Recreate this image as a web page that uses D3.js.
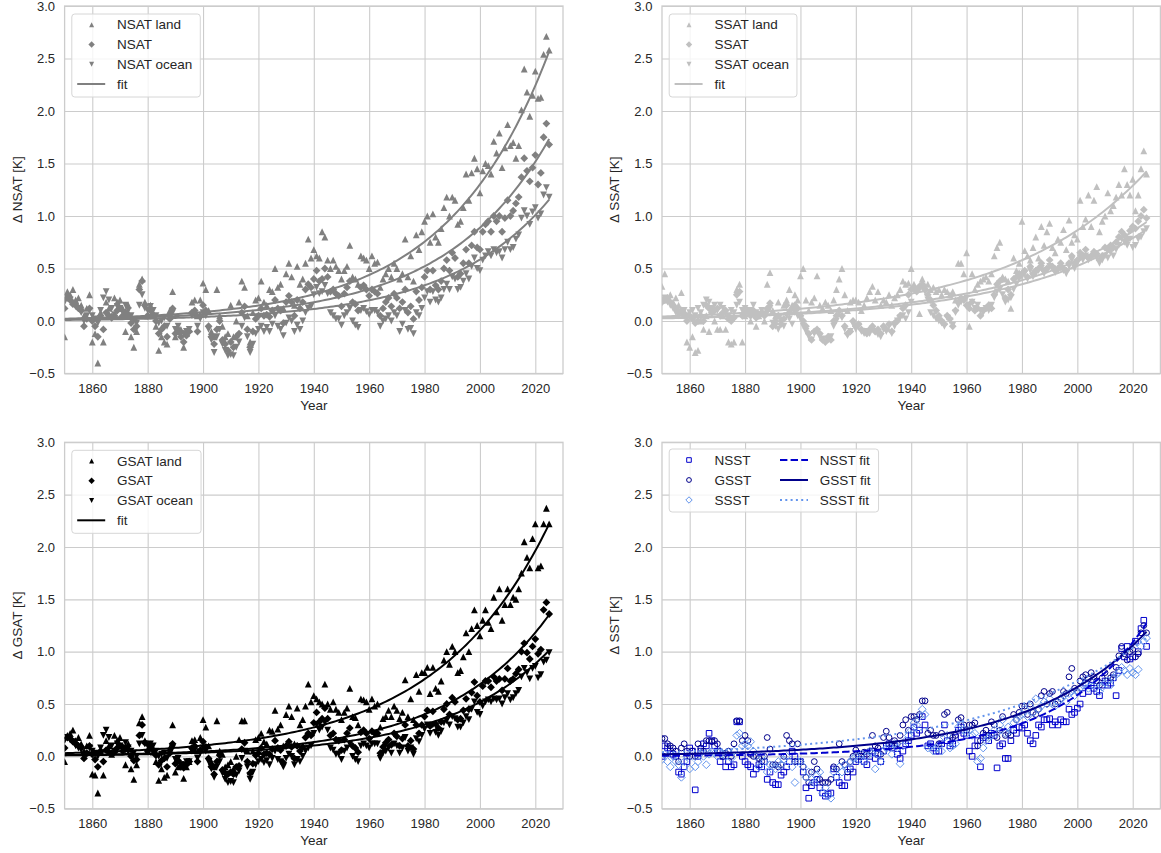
<!DOCTYPE html>
<html>
<head>
<meta charset="utf-8">
<script src="https://cdn.jsdelivr.net/npm/d3@7"></script>
<style>
  body { margin: 0; background: #fff; }
  svg { display: block; }
</style>
</head>
<body>
<svg id="chart" width="1161" height="853"></svg>
<script>
const FONT = "'Liberation Sans', Arial, sans-serif";

// one value per year, 1850-2025
const years = d3.range(1850, 2026);

// anomalies in hundredths of a kelvin
const nsatLand = [
  -15, 28, 25, 30, 20, 22, 15, 5, 12, 25, -20, -12, -40, 8, -20, 18, 12, 5, 22, 18,
  20, 12, -10, 15, -15, -25, -10, 35, 40, 18, 5, 15, 5, -5, -28, -15, -20, -22, 10, 28,
  -15, -10, -8, -25, -12, -8, 18, 20, 5, 20, 36, 30, 10, -10, -15, 30, 5, -5, -15, -12,
  15, -15, 0, 18, 38, 32, 5, -20, 8, 20, 22, 38, 18, 15, 30, 28, 50, 32, 35, 12,
  45, 55, 42, 15, 52, 35, 40, 55, 78, 60, 68, 62, 60, 85, 80, 58, 50, 58, 52, 48,
  40, 48, 52, 72, 42, 40, 35, 62, 60, 58, 50, 62, 55, 56, 32, 40, 45, 50, 42, 55,
  50, 40, 45, 78, 42, 62, 38, 82, 68, 85, 95, 100, 75, 102, 80, 75, 88, 108, 118, 100,
  118, 115, 92, 95, 108, 140, 115, 141, 155, 145, 122, 143, 150, 148, 140, 171, 160, 179, 146, 165,
  187, 167, 170, 155, 167, 201, 240, 218, 195, 215, 238, 212, 213, 254, 271, 258
];
const nsat = [
  12, 22, 20, 16, 15, 12, 10, -5, 2, 12, 0, -5, -15, 5, -8, 8, 5, 3, 5, 10,
  12, 5, 8, 6, -2, -8, -5, 30, 38, 15, 5, 10, 6, 0, -12, -8, -5, -15, 2, 12,
  -12, -8, -15, -20, -14, -10, 8, 10, -10, 5, 15, 10, -5, -15, -22, -8, 0, -18, -22, -28,
  -20, -25, -15, -12, 8, 14, -8, -25, -10, 2, 5, 12, 5, 6, 4, 10, 20, 12, 10, -2,
  18, 24, 18, 5, 20, 12, 18, 30, 35, 32, 40, 48, 38, 40, 50, 42, 28, 30, 26, 24,
  14, 26, 32, 38, 18, 16, 10, 32, 34, 30, 24, 30, 28, 26, 5, 12, 18, 22, 14, 26,
  22, 12, 18, 30, 8, 14, 2, 28, 20, 32, 42, 48, 30, 48, 34, 30, 38, 50, 58, 48,
  65, 60, 42, 45, 55, 68, 55, 72, 85, 70, 68, 85, 92, 95, 85, 100, 95, 100, 85, 98,
  115, 100, 105, 112, 118, 137, 155, 143, 133, 146, 158, 130, 141, 175, 188, 168
];
const nsatOcean = [
  18, 22, 20, 17, 14, 12, 8, 0, 5, 10, 5, 2, -2, 10, 22, 28, 20, 12, 6, 14,
  12, 8, 15, 10, 5, 0, -2, 15, 25, 12, 10, 14, 10, 5, -2, 0, 3, -5, 3, 8,
  -8, -5, -12, -12, -10, -8, 5, 5, -5, 2, 8, 5, -8, -18, -30, -15, -8, -22, -28, -33,
  -32, -33, -25, -20, -5, 3, -15, -30, -22, -12, -8, -5, -10, -6, -10, -3, 5, -5, -8, -14,
  -2, 3, 0, -10, -4, -8, 0, 8, 12, 14, 25, 32, 26, 28, 34, 26, 8, 5, 2, 2,
  -4, 5, 8, 12, 0, -4, -6, 10, 12, 9, 6, 10, 10, 8, -5, 0, 2, 5, 0, 8,
  5, -10, -3, 10, -8, -7, -12, 8, 5, 12, 22, 28, 18, 28, 20, 18, 22, 30, 35, 30,
  42, 40, 30, 32, 38, 45, 40, 52, 60, 50, 48, 58, 62, 66, 62, 68, 65, 66, 60, 68,
  75, 68, 70, 78, 82, 98, 105, 100, 92, 104, 108, 98, 102, 120, 127, 118
];

const ssatLand = [
  33, 45, 20, 25, 18, 22, 15, 27, 10, -20, -25, -15, -30, -28, 0, -8, 5, -10, 10, 0,
  -8, -8, 5, -8, -20, -22, -20, 30, 35, -20, 5, 10, 0, 8, -5, 5, 10, 0, 35, 46,
  10, 5, 18, 2, 15, 20, 30, 15, 25, 20, 43, 50, 20, 10, 18, 22, 43, 15, 12, 18,
  15, 10, 20, 30, 40, 50, 25, 10, 18, 20, 20, 18, 10, 15, 22, 28, 33, 20, 28, 15,
  20, 18, 25, 15, 22, 25, 30, 38, 35, 36, 50, 35, 30, 7, 40, 33, 35, 30, 32, 28,
  30, 25, 30, 28, 25, 28, 20, 55, 55, 45, 65, -5, 45, 30, 35, 38, 40, 42, 38, 45,
  62, 70, 75, 42, 40, 38, 12, 60, 48, 55, 95, 67, 62, 58, 70, 80, 60, 90, 72, 85,
  93, 70, 65, 78, 75, 87, 68, 96, 75, 82, 78, 115, 90, 97, 120, 90, 115, 128, 85, 95,
  100, 122, 105, 110, 118, 130, 120, 145, 130, 120, 135, 105, 120, 145, 162, 140
];
const ssat = [
  18, 20, 22, 18, 15, 12, 8, 10, 5, 0, 5, 2, -2, 0, 5, 0, 15, 12, 8, 10,
  12, 5, 8, 10, 2, 0, 3, 25, 28, 5, 8, 10, 5, 10, 3, 5, 8, 5, 12, 17,
  -5, 0, 5, -3, 2, 15, 8, 12, 15, 12, 5, 0, -5, -12, -18, -10, -8, -12, -18, -20,
  -15, -18, 0, 5, 10, 5, -5, -12, -10, 0, -5, -3, -8, -10, -12, -8, -5, -10, -8, -12,
  -5, -8, -3, -10, -2, 0, 5, 12, 15, 25, 30, 32, 28, 33, 35, 30, 25, 20, 15, 10,
  5, 0, -3, 5, 2, -5, 10, 18, 22, 20, 15, 12, 18, 10, 12, 5, 10, 12, 15, 12,
  25, 35, 38, 40, 22, 30, 25, 40, 42, 45, 45, 48, 42, 52, 45, 48, 50, 55, 48, 50,
  58, 52, 48, 50, 55, 50, 48, 55, 62, 55, 58, 65, 62, 68, 60, 62, 66, 64, 58, 62,
  70, 68, 72, 70, 75, 80, 85, 82, 78, 86, 90, 88, 95, 100, 106, 98
];
const ssatOcean = [
  20, 22, 18, 15, 12, 8, 5, 8, 10, 5, 8, 10, 5, 12, 8, 15, 20, 18, 12, 15,
  10, 15, 12, 8, 5, 10, 8, 15, 18, 10, 12, 8, 10, 15, 8, 5, 10, 6, 8, 12,
  -2, -5, -8, 0, -5, 5, 2, -3, 8, 5, 2, -5, -10, -15, -18, -12, -10, -15, -17, -20,
  -18, -15, -5, 0, 8, 3, -8, -14, -10, -3, -8, -5, -10, -12, -10, -12, -8, -10, -13, -15,
  -8, -10, -5, -12, -5, 0, 3, 5, 2, 8, 18, 30, 28, 30, 32, 28, 20, 8, 5, 2,
  0, -2, -5, 3, 0, -4, 8, 15, 18, 20, 22, 15, 18, 12, 15, 10, 8, 12, 10, 15,
  22, 28, 30, 25, 18, 20, 22, 30, 35, 40, 42, 45, 40, 48, 42, 45, 48, 50, 45, 48,
  52, 50, 46, 48, 50, 48, 45, 52, 58, 50, 55, 60, 58, 62, 58, 60, 62, 60, 55, 58,
  62, 60, 65, 62, 68, 72, 78, 75, 72, 78, 70, 72, 78, 80, 85, 88
];

const gsatLand = [
  -5, 20, 22, 25, 15, 18, 12, 5, 10, 20, -17, -18, -35, 5, -18, 15, 10, 2, 20, 15,
  18, 10, -8, 12, -12, -22, -8, 32, 38, 15, 5, 12, 4, -5, -23, -12, -20, -18, 8, 30,
  -15, -10, -8, -21, -10, -5, 15, 16, 5, 18, 35, 28, 10, -5, -10, 34, 5, 2, -10, -8,
  -5, -12, 0, 16, 34, 34, 5, -15, 5, 16, 18, 22, 14, 12, 25, 24, 44, 26, 30, 10,
  40, 48, 38, 12, 46, 30, 35, 48, 69, 52, 58, 55, 52, 50, 69, 50, 45, 52, 45, 42,
  35, 42, 46, 65, 38, 37, 30, 55, 54, 52, 45, 55, 48, 50, 28, 36, 38, 44, 38, 48,
  44, 36, 42, 73, 38, 55, 35, 78, 62, 80, 80, 85, 60, 85, 65, 62, 72, 92, 100, 88,
  105, 100, 80, 82, 95, 118, 100, 122, 140, 125, 115, 130, 140, 128, 122, 152, 138, 160, 130, 145,
  160, 145, 152, 150, 160, 175, 205, 190, 180, 208, 222, 180, 182, 222, 237, 222
];
const gsat = [
  8, 18, 17, 14, 12, 10, 9, -2, 3, 10, 2, -3, -10, 5, -5, 6, 4, 3, 4, 8,
  10, 5, 7, 6, 0, -4, -3, 20, 30, 13, 5, 9, 6, 1, -8, -4, -2, -10, 3, 12,
  -7, -4, -10, -11, -8, -5, 8, 10, -5, 6, 14, 9, -2, -10, -17, -5, 1, -13, -16, -17,
  -15, -17, -10, -9, 7, 13, -5, -16, -7, 1, 3, 8, 2, 3, 2, 7, 15, 8, 6, -6,
  10, 14, 9, -2, 10, 5, 9, 18, 22, 20, 32, 42, 33, 36, 46, 36, 20, 22, 16, 15,
  6, 16, 22, 27, 10, 8, 4, 23, 25, 22, 17, 24, 22, 22, 3, 9, 13, 16, 11, 22,
  19, 10, 17, 30, 10, 15, 7, 30, 22, 30, 38, 44, 29, 43, 31, 27, 33, 45, 50, 40,
  56, 52, 35, 36, 44, 55, 45, 61, 71, 58, 52, 67, 72, 72, 66, 76, 72, 74, 63, 74,
  84, 72, 74, 79, 83, 100, 108, 99, 93, 105, 112, 98, 102, 140, 147, 136
];
const gsatOcean = [
  15, 18, 16, 14, 10, 8, 6, 0, 2, 8, 5, 3, 0, 8, 20, 25, 18, 10, 5, 12,
  10, 8, 13, 8, 5, 3, 0, 12, 20, 12, 10, 12, 10, 5, 0, 2, 3, -2, 3, 8,
  -3, -2, -8, -8, -5, -5, 5, 6, -2, 3, 8, 5, -5, -12, -20, -10, -5, -16, -22, -25,
  -24, -25, -18, -14, -2, 5, -10, -22, -15, -8, -5, -3, -6, -4, -8, -2, 5, -3, -5, -10,
  -2, 2, 0, -8, -3, -5, 0, 5, 8, 10, 22, 30, 25, 28, 32, 25, 8, 6, 2, 2,
  -3, 5, 8, 12, 0, -3, -5, 10, 12, 10, 8, 12, 12, 12, -2, 3, 5, 8, 3, 12,
  10, 3, 8, 18, 5, 8, 2, 17, 14, 20, 26, 30, 22, 30, 23, 20, 24, 32, 34, 30,
  38, 36, 28, 28, 32, 38, 35, 45, 52, 42, 40, 48, 52, 54, 52, 55, 54, 55, 50, 56,
  60, 54, 56, 60, 63, 76, 84, 80, 74, 84, 86, 75, 78, 90, 92, 99
];

const nsst = [
  0, 10, 8, 5, 2, 0, -15, -17, -10, -5, 8, 5, -32, 0, 5, 12, 10, 22, 15, 10,
  5, -5, 0, -10, -5, -10, -8, 33, 33, 0, -5, -8, -10, -17, -12, -8, -10, -5, -22, -15,
  -25, -27, -27, -18, -15, -10, -5, 5, 0, -5, -5, -15, -30, -40, -28, -25, -22, -30, -35, -38,
  -36, -35, -12, -20, -25, -28, -28, -20, -12, -15, -5, -3, 0, -5, -8, 0, 5, -2, 2, -5,
  5, 10, 12, 8, 10, 2, -2, 5, 12, 15, 20, 28, 22, 25, 38, 30, 10, 12, 8, 5,
  5, 12, 30, 15, 10, 12, 18, 25, 28, 22, 20, 5, 0, 10, 15, -10, 18, 20, 15, 22,
  20, -11, 10, 12, -2, -2, 15, 25, 22, 28, 27, 30, 22, 15, 12, 20, 30, 28, 35, 35,
  36, 30, 33, 30, 35, 33, 33, 45, 40, 42, 46, 50, 60, 70, 62, 68, 65, 62, 58, 68,
  72, 68, 70, 75, 58, 82, 103, 95, 105, 93, 95, 110, 100, 122, 130, 105
];
const gsst = [
  17, 17, 12, 10, 8, 5, -5, 8, 12, 5, 0, 5, 0, 12, 8, 5, 15, 15, 14, 15,
  12, 5, 0, 3, 5, 0, 12, 34, 34, 15, 20, 15, 2, 0, 0, -2, -5, 0, 18, 7,
  -8, -8, -10, -8, 0, 20, 15, 12, -5, 12, -5, -10, -20, -25, -15, -5, -12, -22, -25, -25,
  -25, -22, -10, -12, 12, -5, -8, -15, -5, 0, 6, 0, 2, 4, 2, 5, 20, 10, 8, 2,
  18, 24, 18, 10, 15, 12, 20, 30, 35, 25, 38, 38, 35, 40, 53, 53, 22, 25, 20, 20,
  12, 22, 40, 42, 20, 18, 20, 35, 37, 30, 25, 30, 30, 32, 10, 15, 22, 25, 20, 33,
  30, 18, 25, 38, 20, 22, 20, 40, 35, 42, 48, 48, 40, 50, 42, 40, 45, 58, 62, 50,
  60, 62, 50, 52, 55, 62, 60, 76, 84, 65, 62, 72, 76, 78, 74, 80, 76, 72, 68, 75,
  80, 72, 75, 78, 85, 96, 105, 98, 92, 100, 102, 95, 98, 118, 125, 118
];
const ssst = [
  -3, 2, -5, -10, 0, -5, -8, -20, -5, 0, -12, 0, -10, -5, 3, 0, -8, 2, 5, 3,
  0, 5, 2, 0, 4, -2, 5, 20, 22, 10, 12, 10, 14, 5, 0, -10, 0, -5, -15, -8,
  -10, -12, -5, -8, -3, 0, -5, -10, -25, -5, -5, -10, -20, -15, -22, -25, -18, -15, -35, -30,
  -38, -40, -15, -20, -10, -15, -8, -12, -5, -2, 0, -3, 2, -5, 0, 5, 3, -12, 2, -5,
  5, 8, 10, 2, 12, 8, -7, 10, 15, 20, 25, 32, 30, 38, 45, 40, 8, 10, 5, 8,
  10, 5, 18, 20, 8, 10, 12, 28, 30, 25, 22, 25, 20, 22, -5, -2, 8, 15, 18, 20,
  25, 22, 30, 35, 22, 28, 25, 32, 35, 38, 40, 45, 38, 48, 42, 55, 45, 48, 52, 50,
  55, 50, 48, 52, 55, 58, 52, 60, 62, 58, 62, 65, 68, 70, 65, 72, 68, 70, 62, 66,
  70, 72, 68, 75, 78, 80, 85, 82, 78, 84, 80, 78, 83, 105, 110, 113
];

// exponential fits: [a, b, c] for c + a*exp(b*(year-1850))
const fitNsat = { land: [0.022, 0.0272, 0], mean: [0.0162, 0.0267, 0], ocean: [0.0099, 0.0272, 0] };
const fitSsat = { land: [0.043, 0.02, 0], mean: [0.03, 0.0197, 0], ocean: [0.025, 0.0203, 0] };
const fitGsat = { land: [0.0305, 0.0245, 0], mean: [0.012, 0.027, 0], ocean: [0.0093, 0.0268, 0] };
const fitSst = { nsst: [0.0056, 0.031, 0], gsst: [0.0195, 0.0235, 0], ssst: [0.049, 0.018, -0.01] };

const xTicks = [1860, 1880, 1900, 1920, 1940, 1960, 1980, 2000, 2020];
const yTicks = [-0.5, 0, 0.5, 1, 1.5, 2, 2.5, 3];

const shapes = {
  up: (s) => `M0,${-s}L${s},${s}L${-s},${s}Z`,
  down: (s) => `M0,${s}L${s},${-s}L${-s},${-s}Z`,
  diamond: (s) => `M0,${-s}L${s},0L0,${s}L${-s},0Z`,
  square: (s) => `M${-s},${-s}H${s}V${s}H${-s}Z`,
  circle: (s) => `M${s},0A${s},${s} 0 1,1 ${-s},0A${s},${s} 0 1,1 ${s},0Z`,
};
// half-sizes in px: in the plot, and in the legend
const plotSize = { up: 3.4, down: 3.4, diamond: 3.9, square: 2.8, circle: 2.9 };
const legendSize = { up: 2.5, down: 2.5, diamond: 3.2, square: 2.3, circle: 2.4 };

function landPanel(prefix, vals, fits, color) {
  return {
    ylabel: `Δ ${prefix} [K]`,
    series: [
      { name: `${prefix} land`, values: vals[0], shape: "up", color },
      { name: prefix, values: vals[1], shape: "diamond", color },
      { name: `${prefix} ocean`, values: vals[2], shape: "down", color },
    ],
    fits: [
      { params: fits.land, color, dash: null },
      { params: fits.mean, color, dash: null },
      { params: fits.ocean, color, dash: null },
    ],
    legendCols: 1,
  };
}

const panels = [
  Object.assign(landPanel("NSAT", [nsatLand, nsat, nsatOcean], fitNsat, "#808080"),
    { box: { left: 64.6, right: 563, top: 6, bottom: 373.5 } }),
  Object.assign(landPanel("SSAT", [ssatLand, ssat, ssatOcean], fitSsat, "#c0c0c0"),
    { box: { left: 662, right: 1160.4, top: 6, bottom: 373.5 } }),
  Object.assign(landPanel("GSAT", [gsatLand, gsat, gsatOcean], fitGsat, "#000000"),
    { box: { left: 64.6, right: 563, top: 442.3, bottom: 808.7 } }),
  {
    ylabel: "Δ SST [K]",
    box: { left: 662, right: 1160.4, top: 442.3, bottom: 808.7 },
    series: [
      { name: "NSST", values: nsst, shape: "square", color: "#0000cd", hollow: true },
      { name: "GSST", values: gsst, shape: "circle", color: "#00008b", hollow: true },
      { name: "SSST", values: ssst, shape: "diamond", color: "#6495ed", hollow: true },
    ],
    fits: [
      { name: "NSST fit", params: fitSst.nsst, color: "#0000cd", dash: "7.4,3.2" },
      { name: "GSST fit", params: fitSst.gsst, color: "#00008b", dash: null },
      { name: "SSST fit", params: fitSst.ssst, color: "#6495ed", dash: "2,3.3" },
    ],
    legendCols: 2,
  },
];

const svg = d3.select("#chart");
svg.append("rect").attr("width", 1161).attr("height", 853).attr("fill", "#fff");
const defs = svg.append("defs");

panels.forEach((p, i) => {
  const b = p.box;
  const w = b.right - b.left;
  const h = b.bottom - b.top;
  const x = d3.scaleLinear().domain([1850, 2030]).range([b.left, b.right]);
  const y = d3.scaleLinear().domain([-0.5, 3]).range([b.bottom, b.top]);
  const g = svg.append("g");

  // grid and tick labels
  const xa = g.append("g")
    .attr("transform", `translate(0,${b.bottom})`)
    .call(d3.axisBottom(x).tickValues(xTicks).tickFormat(d3.format("d"))
      .tickSize(-h).tickPadding(10));
  const ya = g.append("g")
    .attr("transform", `translate(${b.left},0)`)
    .call(d3.axisLeft(y).tickValues(yTicks).tickFormat(d3.format(".1f"))
      .tickSize(-w).tickPadding(9.6));
  [xa, ya].forEach((a) => {
    a.attr("font-family", FONT).attr("font-size", 13);
    a.select(".domain").remove();
    a.selectAll(".tick line").attr("stroke", "#cccccc").attr("stroke-width", 1.1);
    a.selectAll(".tick text").attr("fill", "#262626");
  });

  g.append("rect")
    .attr("x", b.left).attr("y", b.top).attr("width", w).attr("height", h)
    .attr("fill", "none").attr("stroke", "#cccccc").attr("stroke-width", 1.3);

  // axis titles
  g.append("text")
    .attr("x", (b.left + b.right) / 2).attr("y", b.bottom + 36)
    .attr("text-anchor", "middle").attr("font-family", FONT).attr("font-size", 13.5)
    .attr("fill", "#262626").text("Year");
  g.append("text")
    .attr("transform", `translate(${b.left - 43},${(b.top + b.bottom) / 2}) rotate(-90)`)
    .attr("text-anchor", "middle").attr("font-family", FONT).attr("font-size", 13.5)
    .attr("fill", "#262626").text(p.ylabel);

  defs.append("clipPath").attr("id", `clip${i}`)
    .append("rect").attr("x", b.left).attr("y", b.top).attr("width", w).attr("height", h);
  const plot = g.append("g").attr("clip-path", `url(#clip${i})`);

  // scatter points
  p.series.forEach((s) => {
    const pts = years.map((yr, k) => ({ yr, v: s.values[k] / 100 }));
    plot.append("g")
      .selectAll("path")
      .data(pts)
      .join("path")
      .attr("d", shapes[s.shape](plotSize[s.shape]))
      .attr("transform", (d) => `translate(${x(d.yr)},${y(d.v)})`)
      .attr("fill", s.hollow ? "none" : s.color)
      .attr("stroke", s.hollow ? s.color : "none")
      .attr("stroke-width", 1);
  });

  // fit curves
  p.fits.forEach((f) => {
    const [a, k, c] = f.params;
    plot.append("path")
      .datum(years)
      .attr("d", d3.line().x((d) => x(d)).y((d) => y(c + a * Math.exp(k * (d - 1850)))))
      .attr("fill", "none")
      .attr("stroke", f.color)
      .attr("stroke-width", 2)
      .attr("stroke-dasharray", f.dash);
  });

  // legend
  const lg = g.append("g");
  const box = lg.append("rect")
    .attr("rx", 3).attr("ry", 3)
    .attr("fill", "#fff").attr("fill-opacity", 0.8)
    .attr("stroke", "#d6d6d6").attr("stroke-width", 1);
  const items = [];
  p.series.forEach((s, r) => items.push({ kind: "marker", s, col: 0, row: r, label: s.name }));
  if (p.legendCols === 1) {
    items.push({ kind: "line", f: p.fits[0], col: 0, row: 3, label: "fit" });
  } else {
    p.fits.forEach((f, r) => items.push({ kind: "line", f, col: 1, row: r, label: f.name }));
  }
  const colX = [0, 105.4];
  const one = p.legendCols === 1;
  const rowY = (r) => b.top + (one ? 18.7 : 17.7) + r * (one ? 19.77 : 20);
  let maxRight = 0;
  items.forEach((it) => {
    const cx = b.left + colX[it.col];
    const cy = rowY(it.row);
    if (it.kind === "line") {
      lg.append("line")
        .attr("x1", cx + 12.6).attr("x2", cx + 40.6).attr("y1", cy).attr("y2", cy)
        .attr("stroke", it.f.color).attr("stroke-width", 2)
        .attr("stroke-dasharray", it.f.dash);
    } else {
      lg.append("path")
        .attr("d", shapes[it.s.shape](legendSize[it.s.shape]))
        .attr("transform", `translate(${cx + 27},${cy})`)
        .attr("fill", it.s.hollow ? "none" : it.s.color)
        .attr("stroke", it.s.hollow ? it.s.color : "none")
        .attr("stroke-width", 1);
    }
    const t = lg.append("text")
      .attr("x", cx + 52.4).attr("y", cy).attr("dy", "0.35em")
      .attr("font-family", FONT).attr("font-size", 13.5).attr("fill", "#262626")
      .text(it.label);
    maxRight = Math.max(maxRight, cx + 52.4 + t.node().getComputedTextLength());
  });
  const bx = b.left + 7.2;
  const by = b.top + (one ? 8 : 6.7);
  box.attr("x", bx).attr("y", by)
    .attr("width", maxRight + 8 - bx)
    .attr("height", one ? 83 : 63);
});
</script>
</body>
</html>
